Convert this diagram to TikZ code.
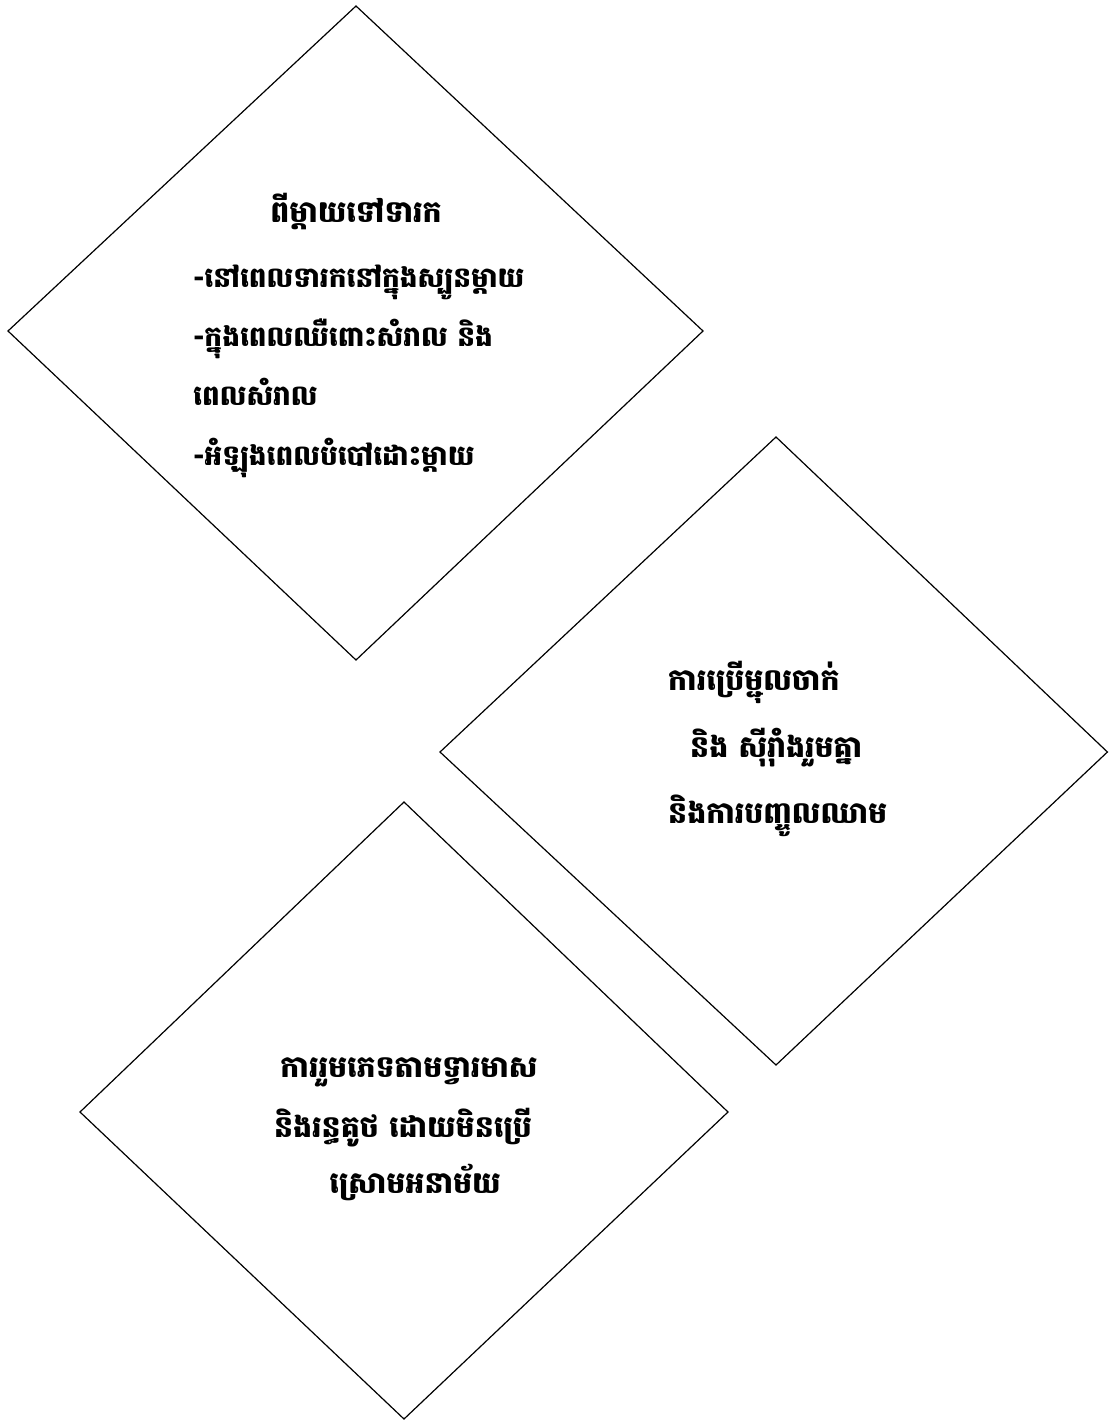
\documentclass[tikz,border=0pt]{standalone}
\usepackage{fontspec}
\newfontfamily\kh[Script=Khmer]{Battambang}
\begin{document}
\begin{tikzpicture}[x=1pt,y=-1pt,
  dia/.style={draw=black,line width=1.2pt,line join=miter},
  ka/.style={font=\kh\bfseries\fontsize{28}{32}\selectfont,inner sep=0pt,anchor=base west},
  kb/.style={font=\kh\bfseries\fontsize{30}{34}\selectfont,inner sep=0pt,anchor=base west},
  kbc/.style={font=\kh\bfseries\fontsize{30}{34}\selectfont,inner sep=0pt,anchor=base}]
\useasboundingbox (0,0) rectangle (1108,1421);
% diamonds
\draw[dia] (356,6) coordinate (d1t) -- (703,331) coordinate (d1r) -- (356,660) coordinate (d1b) -- (8,331) coordinate (d1l) -- cycle;
\draw[dia] (776,437) coordinate (d2t) -- (1107.4,752) coordinate (d2r) -- (776,1065) coordinate (d2b) -- (440,752) coordinate (d2l) -- cycle;
\draw[dia] (404,802) coordinate (d3t) -- (728,1112) coordinate (d3r) -- (404,1419) coordinate (d3b) -- (80,1112) coordinate (d3l) -- cycle;
% diamond 1 text
\node[kbc] (t1) at (356,222) {ពីម្ដាយទៅទារក};
\node[ka] (t2) at (193,287) {-នៅពេលទារកនៅក្នុងស្បូនម្ដាយ};
\node[ka] (t3) at (193,346) {-ក្នុងពេលឈឺពោះសំរាល  និង};
\node[ka] (t4) at (193,405) {ពេលសំរាល};
\node[ka] (t5) at (193,465) {-អំឡុងពេលបំបៅដោះម្ដាយ};
% diamond 2 text
\node[kb] (u1) at (668,690) {ការប្រើម្ជុលចាក់};
\node[kb] (u2) at (690,757) {និង ស៊ីរ៉ាំងរួមគ្នា};
\node[kb] (u3) at (668,823) {និងការបញ្ចូលឈាម};
% diamond 3 text
\node[kbc] (v1) at (409,1077) {ការរួមភេទតាមទ្វារមាស};
\node[kbc] (v2) at (403,1137) {និងរន្ធគូថ ដោយមិនប្រើ};
\node[kbc] (v3) at (415,1193) {ស្រោមអនាម័យ};
\end{tikzpicture}
\end{document}
